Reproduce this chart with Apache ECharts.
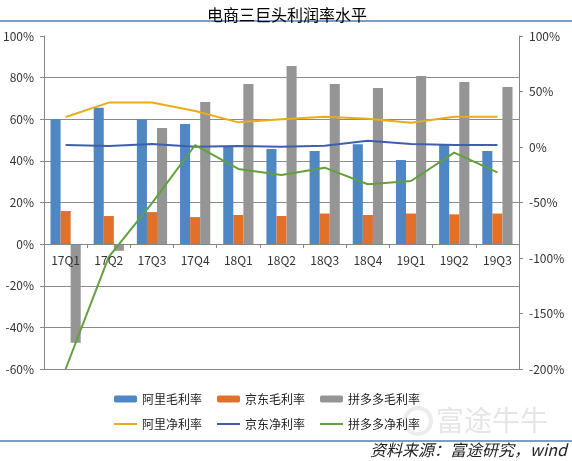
<!DOCTYPE html>
<html>
<head>
<meta charset="utf-8">
<script src="https://cdn.jsdelivr.net/npm/echarts@6/dist/echarts.min.js"></script>
<style>html,body{margin:0;padding:0;background:#fff;}#c{width:572px;height:461px;}</style>
</head>
<body>
<div id="c"></div>
<script>
var categories = ['17Q1','17Q2','17Q3','17Q4','18Q1','18Q2','18Q3','18Q4','19Q1','19Q2','19Q3'];
var aliGross = [60, 65.5, 60, 57.7, 47, 45.7, 44.7, 48, 40.4, 48, 44.7];
var jdGross = [15.9, 13.5, 15.4, 13, 14, 13.5, 14.7, 14, 14.7, 14.3, 14.7];
var pddGross = [-47.4, -3.2, 55.8, 68.3, 76.9, 85.6, 76.9, 75, 80.8, 77.9, 75.5];
var aliNet = [27, 40, 40, 32.4, 22.2, 25, 27.3, 25.5, 21.9, 27.3, 27.3];
var jdNet = [1.8, 0.9, 2.7, 0.3, 0.9, 0.3, 1.2, 5.7, 2.7, 1.8, 1.8];
var pddNet = [-200, -99, -50.5, 1.8, -19.8, -25.2, -18.6, -33.6, -30.6, -5.1, -22.8];
var leftTicks = {min: -60, max: 100, interval: 20};
var rightTicks = {min: -200, max: 100, interval: 50};

var FONT = '"Noto Sans CJK SC", "DejaVu Sans", sans-serif';
var AX = '#868686';
var chart = echarts.init(document.getElementById('c'));
var pct = function (v) { return v + '%'; };
var gridTop = 36, gridBottom = 92;
// height of the zero line from the bottom of the plot (left axis)
var plotH = 461 - gridTop - gridBottom;
var zeroFromBottom = plotH * (0 - leftTicks.min) / (leftTicks.max - leftTicks.min);

chart.setOption({
  animation: false,
  backgroundColor: '#fff',
  textStyle: {fontFamily: FONT},
  title: {
    text: '电商三巨头利润率水平', left: 282, textAlign: 'center', top: 2,
    textStyle: {fontSize: 16, fontWeight: 'normal', color: '#000', fontFamily: FONT}
  },
  graphic: [
    {type: 'rect', shape: {x: 0, y: 20, width: 572, height: 2}, style: {fill: '#7f9cc4'}, silent: true},
    {type: 'rect', shape: {x: 0, y: 440, width: 572, height: 2}, style: {fill: '#7f9cc4'}, silent: true},
    {type: 'circle', shape: {cx: 418, cy: 421, r: 13}, style: {fill: 'none', stroke: '#ececec', lineWidth: 4}, z: -1, silent: true},
    {type: 'text', left: 436, top: 406, z: -1, style: {text: '富途牛牛', fontSize: 28, fill: '#e6e6e6', fontFamily: FONT}, silent: true},
    {type: 'text', right: 5, top: 442, style: {text: '资料来源：富途研究，wind', fontSize: 16, fontStyle: 'italic', fill: '#222', fontFamily: FONT}, silent: true}
  ],
  legend: [
    {
      data: ['阿里毛利率', '京东毛利率', '拼多多毛利率'],
      left: 109, top: 388, itemWidth: 23, itemHeight: 7, itemGap: 15,
      textStyle: {fontSize: 12, color: '#222', fontFamily: FONT}
    },
    {
      data: [{name: '阿里净利率', icon: 'rect'}, {name: '京东净利率', icon: 'rect'}, {name: '拼多多净利率', icon: 'rect'}],
      left: 109, top: 413, itemWidth: 23, itemHeight: 2, itemGap: 15,
      textStyle: {fontSize: 12, color: '#222', fontFamily: FONT}
    }
  ],
  grid: [
    {left: 44, right: 53, top: gridTop, bottom: gridBottom, containLabel: false},
    {left: 44, right: 53, top: gridTop, bottom: gridBottom + zeroFromBottom, containLabel: false}
  ],
  xAxis: [
    {
      type: 'category', data: categories, gridIndex: 0,
      axisLine: {show: false}, axisTick: {show: false}, axisLabel: {show: false}
    },
    {
      type: 'category', data: categories, gridIndex: 1, z: 10,
      axisLine: {show: true, onZero: false, lineStyle: {color: AX, width: 1}},
      axisTick: {show: true, length: 4, lineStyle: {color: AX}},
      axisLabel: {color: '#333', fontSize: 12, margin: 10, fontFamily: FONT},
      splitLine: {show: false}
    }
  ],
  yAxis: [
    {
      type: 'value', gridIndex: 0, min: leftTicks.min, max: leftTicks.max, interval: leftTicks.interval,
      axisLine: {show: true, lineStyle: {color: AX}},
      axisTick: {show: true, length: 4, lineStyle: {color: AX}},
      axisLabel: {formatter: pct, color: '#333', fontSize: 12, margin: 10, fontFamily: FONT},
      splitLine: {show: true, lineStyle: {color: ['#8a8a8a','#8a8a8a','#8a8a8a','#8a8a8a','#8a8a8a','#8a8a8a','#8a8a8a','#8a8a8a','rgba(0,0,0,0)'], width: 1}}
    },
    {
      type: 'value', gridIndex: 0, min: rightTicks.min, max: rightTicks.max, interval: rightTicks.interval,
      position: 'right',
      axisLine: {show: true, lineStyle: {color: AX}},
      axisTick: {show: true, length: 4, lineStyle: {color: AX}},
      axisLabel: {formatter: pct, color: '#333', fontSize: 12, margin: 10, fontFamily: FONT},
      splitLine: {show: false}
    },
    {
      type: 'value', gridIndex: 1, min: 0, max: leftTicks.max, show: false
    }
  ],
  series: [
    {name: '阿里毛利率', type: 'bar', data: aliGross, xAxisIndex: 0, yAxisIndex: 0, barGap: '0%', barCategoryGap: '30%', itemStyle: {color: '#4f86c4'}},
    {name: '京东毛利率', type: 'bar', data: jdGross, xAxisIndex: 0, yAxisIndex: 0, barGap: '0%', barCategoryGap: '30%', itemStyle: {color: '#e0702a'}},
    {name: '拼多多毛利率', type: 'bar', data: pddGross, xAxisIndex: 0, yAxisIndex: 0, barGap: '0%', barCategoryGap: '30%', itemStyle: {color: '#959595'}},
    {name: '阿里净利率', type: 'line', data: aliNet, xAxisIndex: 0, yAxisIndex: 1, symbol: 'none', lineStyle: {color: '#e8ad18', width: 2}, itemStyle: {color: '#e8ad18'}},
    {name: '京东净利率', type: 'line', data: jdNet, xAxisIndex: 0, yAxisIndex: 1, symbol: 'none', lineStyle: {color: '#3f5fae', width: 2}, itemStyle: {color: '#3f5fae'}},
    {name: '拼多多净利率', type: 'line', data: pddNet, xAxisIndex: 0, yAxisIndex: 1, symbol: 'none', lineStyle: {color: '#62a03f', width: 2}, itemStyle: {color: '#62a03f'}}
  ]
});
</script>
</body>
</html>
